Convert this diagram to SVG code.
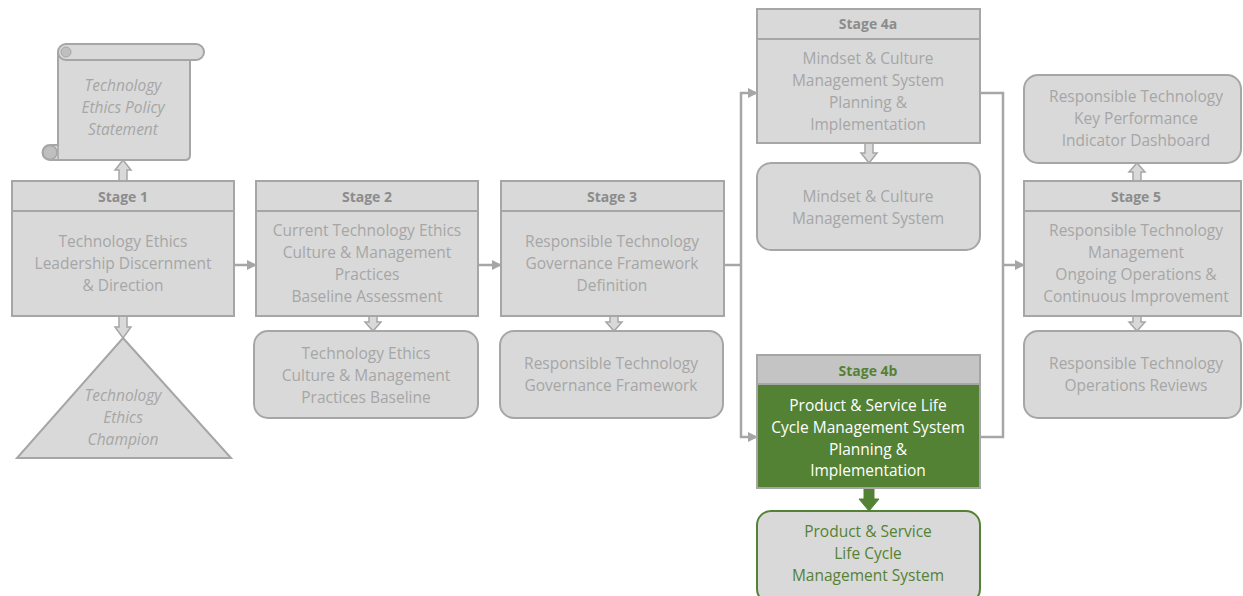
<svg xmlns="http://www.w3.org/2000/svg" width="1243" height="596" viewBox="0 0 1243 596">
<defs>
<style>
.box{fill:#d9d9d9;stroke:#a6a6a6;stroke-width:2}
.t{font-family:"Open Sans","Liberation Sans",sans-serif;font-size:15.5px;fill:#a6a6a6;text-anchor:middle}
.it{font-style:italic}
.h{font-family:"Open Sans","Liberation Sans",sans-serif;font-size:14px;font-weight:bold;fill:#8c8c8c;text-anchor:middle}
.conn{fill:none;stroke:#a6a6a6;stroke-width:2.5}
.blk{fill:#d9d9d9;stroke:#a6a6a6;stroke-width:1.5}
</style>
<marker id="ah" viewBox="0 0 10 10" refX="9" refY="5" markerWidth="4" markerHeight="4" markerUnits="strokeWidth" orient="auto">
<path d="M0,0 L10,5 L0,10 Z" fill="#a6a6a6"/>
</marker>
</defs>
<rect width="1243" height="596" fill="#ffffff"/>

<g id="connectors">
<line class="conn" x1="234" y1="265" x2="256" y2="265" marker-end="url(#ah)"/>
<line class="conn" x1="478" y1="265" x2="501" y2="265" marker-end="url(#ah)"/>
<polyline class="conn" points="724,265 741,265"/>
<line class="conn" x1="741" y1="92" x2="741" y2="438"/>
<line class="conn" x1="740" y1="93" x2="757" y2="93" marker-end="url(#ah)"/>
<line class="conn" x1="740" y1="437" x2="757" y2="437" marker-end="url(#ah)"/>
<polyline class="conn" points="980,93 1003,93 1003,437 980,437"/>
<line class="conn" x1="1003" y1="265" x2="1024" y2="265" marker-end="url(#ah)"/>
<polygon class="blk" points="119,181 127,181 127,170 131,170 123,160 115,170 119,170"/>
<polygon class="blk" points="119,316 127,316 127,327 131,327 123,338 115,327 119,327"/>
<polygon class="blk" points="369,316 377,316 377,322 381,322 373,331 365,322 369,322"/>
<polygon class="blk" points="610,316 618,316 618,322 622,322 614,331 606,322 610,322"/>
<polygon class="blk" points="865,143 873,143 873,153 877,153 869,163 861,153 865,153"/>
<polygon fill="#548235" stroke="#548235" stroke-width="1" points="864,488 874,488 874,499 879,499 869,511 859,499 864,499"/>
<polygon class="blk" points="1133,181 1141,181 1141,172 1145,172 1137,163 1129,172 1133,172"/>
<polygon class="blk" points="1133,316 1141,316 1141,322 1145,322 1137,331 1129,322 1133,322"/>
</g>

<g id="policy-scroll">
<path class="box" d="M58,52 L190,52 L190,155 Q190,160 185,160 L50,160 A7.5,7.5 0 0 1 50,145 L58,145 Z"/>
<rect class="box" x="58" y="44" width="146" height="16" rx="8"/>
<circle cx="66" cy="52" r="5" fill="#bfbfbf" stroke="#a6a6a6" stroke-width="1"/>
<circle cx="50" cy="152.5" r="7" fill="#bfbfbf" stroke="#a6a6a6" stroke-width="1.5"/>
<line x1="58" y1="145" x2="58" y2="160" stroke="#a6a6a6" stroke-width="1.5"/>
<text class="t it" x="123" y="91">Technology</text>
<text class="t it" x="123" y="113">Ethics Policy</text>
<text class="t it" x="123" y="135">Statement</text>
</g>

<g id="stage1">
<rect class="box" x="12" y="181" width="222" height="135"/>
<line x1="12" y1="211" x2="234" y2="211" stroke="#a6a6a6" stroke-width="2"/>
<text class="h" x="123" y="202">Stage 1</text>
<text class="t" x="123" y="247">Technology Ethics</text>
<text class="t" x="123" y="269">Leadership Discernment</text>
<text class="t" x="123" y="291">&amp; Direction</text>
</g>

<g id="champion">
<polygon class="box" points="123,338 231,458 17,458"/>
<text class="t it" x="123" y="401">Technology</text>
<text class="t it" x="123" y="423">Ethics</text>
<text class="t it" x="123" y="445">Champion</text>
</g>

<g id="stage2">
<rect class="box" x="256" y="181" width="222" height="135"/>
<line x1="256" y1="211" x2="478" y2="211" stroke="#a6a6a6" stroke-width="2"/>
<text class="h" x="367" y="202">Stage 2</text>
<text class="t" x="367" y="236">Current Technology Ethics</text>
<text class="t" x="367" y="258">Culture &amp; Management</text>
<text class="t" x="367" y="280">Practices</text>
<text class="t" x="367" y="302">Baseline Assessment</text>
</g>

<g id="baseline">
<rect class="box" x="254" y="331" width="224" height="87" rx="14"/>
<text class="t" x="366" y="359">Technology Ethics</text>
<text class="t" x="366" y="381">Culture &amp; Management</text>
<text class="t" x="366" y="403">Practices Baseline</text>
</g>

<g id="stage3">
<rect class="box" x="501" y="181" width="223" height="135"/>
<line x1="501" y1="211" x2="724" y2="211" stroke="#a6a6a6" stroke-width="2"/>
<text class="h" x="612" y="202">Stage 3</text>
<text class="t" x="612" y="247">Responsible Technology</text>
<text class="t" x="612" y="269">Governance Framework</text>
<text class="t" x="612" y="291">Definition</text>
</g>

<g id="governance">
<rect class="box" x="500" y="331" width="223" height="87" rx="14"/>
<text class="t" x="611" y="369">Responsible Technology</text>
<text class="t" x="611" y="391">Governance Framework</text>
</g>

<g id="stage4a">
<rect class="box" x="757" y="9" width="223" height="134"/>
<line x1="757" y1="39" x2="980" y2="39" stroke="#a6a6a6" stroke-width="2"/>
<text class="h" x="868" y="29">Stage 4a</text>
<text class="t" x="868" y="64">Mindset &amp; Culture</text>
<text class="t" x="868" y="86">Management System</text>
<text class="t" x="868" y="108">Planning &amp;</text>
<text class="t" x="868" y="130">Implementation</text>
</g>

<g id="mindset">
<rect class="box" x="757" y="163" width="223" height="87" rx="14"/>
<text class="t" x="868" y="202">Mindset &amp; Culture</text>
<text class="t" x="868" y="224">Management System</text>
</g>

<g id="stage4b">
<rect x="757" y="355" width="223" height="29" fill="#c4c4c4" stroke="#a6a6a6" stroke-width="2"/>
<rect x="757" y="384" width="223" height="104" fill="#548235" stroke="#a6a6a6" stroke-width="2"/>
<text class="h" x="868" y="376" style="fill:#548235">Stage 4b</text>
<text class="t" x="868" y="411" style="fill:#ffffff">Product &amp; Service Life</text>
<text class="t" x="868" y="433" style="fill:#ffffff">Cycle Management System</text>
<text class="t" x="868" y="455" style="fill:#ffffff">Planning &amp;</text>
<text class="t" x="868" y="476" style="fill:#ffffff">Implementation</text>
</g>

<g id="lifecycle">
<rect x="757" y="511" width="223" height="92" rx="14" fill="#d9d9d9" stroke="#548235" stroke-width="2"/>
<text class="t" x="868" y="537" style="fill:#548235">Product &amp; Service</text>
<text class="t" x="868" y="559" style="fill:#548235">Life Cycle</text>
<text class="t" x="868" y="581" style="fill:#548235">Management System</text>
</g>

<g id="kpi">
<rect class="box" x="1024" y="75" width="217" height="88" rx="14"/>
<text class="t" x="1136" y="102">Responsible Technology</text>
<text class="t" x="1136" y="124">Key Performance</text>
<text class="t" x="1136" y="146">Indicator Dashboard</text>
</g>

<g id="stage5">
<rect class="box" x="1024" y="181" width="217" height="135"/>
<line x1="1024" y1="211" x2="1241" y2="211" stroke="#a6a6a6" stroke-width="2"/>
<text class="h" x="1136" y="202">Stage 5</text>
<text class="t" x="1136" y="236">Responsible Technology</text>
<text class="t" x="1136" y="258">Management</text>
<text class="t" x="1136" y="280">Ongoing Operations &amp;</text>
<text class="t" x="1136" y="302">Continuous Improvement</text>
</g>

<g id="reviews">
<rect class="box" x="1024" y="331" width="217" height="87" rx="14"/>
<text class="t" x="1136" y="369">Responsible Technology</text>
<text class="t" x="1136" y="391">Operations Reviews</text>
</g>
</svg>
